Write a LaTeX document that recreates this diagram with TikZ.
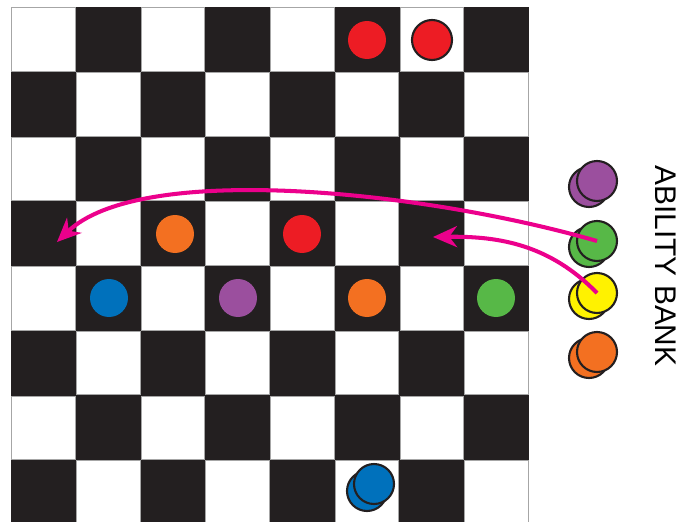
\documentclass[tikz,border=0pt]{standalone}
\usepackage{fontspec}
\setmainfont{Liberation Sans}
\usetikzlibrary{arrows.meta}
\definecolor{board}{HTML}{231F20}
\definecolor{pcred}{HTML}{ED1C24}
\definecolor{pcorange}{HTML}{F37021}
\definecolor{pcblue}{HTML}{0071BC}
\definecolor{pcpurple}{HTML}{9B4F9E}
\definecolor{pcgreen}{HTML}{57B847}
\definecolor{pcyellow}{HTML}{FFF200}
\definecolor{swipe}{HTML}{EC008C}
\tikzset{
  piece/.style={circle,inner sep=0pt,minimum size=0.76cm},
  token/.style={circle,inner sep=0pt,minimum size=0.8cm,draw=board,line width=1.2pt},
  move/.style={draw=swipe,line width=2.3pt,-{Stealth[length=0.48cm,width=0.42cm]}}
}
\begin{document}
\begin{tikzpicture}[x=0.02cm,y=-0.02cm]
  \useasboundingbox (0,0) rectangle (680,521);
  \begin{scope}
    \clip (0,0) rectangle (680,521);
    \fill[board] (11,7) rectangle +(517.6,517.6);
    \foreach \r in {0,...,7}
      \foreach \k in {0,...,3} {
        \pgfmathsetmacro\c{2*\k+mod(\r,2)}
        \draw[fill=white,draw=gray!70,line width=0.3pt]
          ({11.6+64.7*\c},{7.6+64.7*\r}) rectangle +(63.5,63.5);
      }
  \end{scope}
  \node[piece,fill=pcred] (r1) at (367,40) {};
  \node[token,fill=pcred] (r2) at (432,40) {};
  \node[piece,fill=pcorange] (o1) at (175,234) {};
  \node[piece,fill=pcred] (r3) at (302,234) {};
  \node[piece,fill=pcblue] (b1) at (109,298) {};
  \node[piece,fill=pcpurple] (p1) at (238,298) {};
  \node[piece,fill=pcorange] (o2) at (367,298) {};
  \node[piece,fill=pcgreen] (g1) at (496,298) {};
  \node[token,fill=pcblue] (b2back) at (367,491) {};
  \node[token,fill=pcblue] (b2) at (374,484) {};
  \node[token,fill=pcpurple] (bankPback) at (589,187) {};
  \node[token,fill=pcpurple] (bankP) at (597,181) {};
  \node[token,fill=pcgreen] (bankGback) at (589,247) {};
  \node[token,fill=pcgreen] (bankG) at (597,241) {};
  \node[token,fill=pcyellow] (bankYback) at (589,299) {};
  \node[token,fill=pcyellow] (bankY) at (597,293) {};
  \node[token,fill=pcorange] (bankOback) at (589,358) {};
  \node[token,fill=pcorange] (bankO) at (597,352) {};
  \coordinate (farend) at (57,242);
  \coordinate (nearend) at (433,237);
  \draw[move] (bankG.center) .. controls (420,190) and (140,162) .. (farend);
  \draw[move] (bankY.center) .. controls (550,245) and (500,236) .. (nearend);
  \node[rotate=-90,font=\fontsize{17}{20}\selectfont] (bank) at (666,266) {ABILITY BANK};
\end{tikzpicture}
\end{document}
